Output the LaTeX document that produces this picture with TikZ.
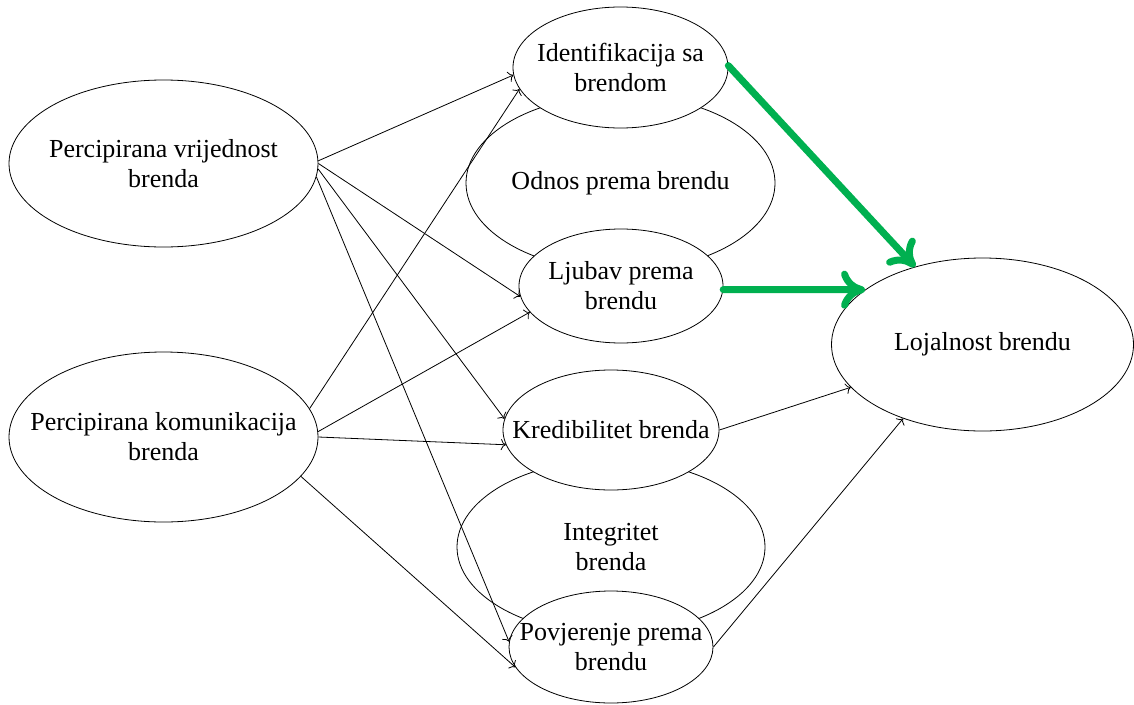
\documentclass[tikz,border=0pt]{standalone}
\usepackage{fontspec}
\setmainfont{Liberation Serif}
\usetikzlibrary{arrows.meta,shapes.geometric}
\definecolor{arrowgreen}{HTML}{00B050}
\begin{document}
\begin{tikzpicture}[x=1pt,y=-1pt,
  construct/.style={ellipse, draw, fill=white, line width=0.8pt, inner sep=0pt,
    label={[caption]center:#1}},
  caption/.style={align=center, inner sep=0pt, font=\fontsize{26}{30}\selectfont},
  size/.style 2 args={minimum width=#1, minimum height=#2},
  link/.style={-{To[length=5pt,width=11pt]}, line width=0.8pt},
  strong/.style={-{To[length=24pt,width=38pt,round]}, draw=arrowgreen,
    line width=7pt, line cap=round}]

\useasboundingbox (0,0) rectangle (1134,704);

% large background constructs
\node[construct={Odnos prema brendu}, size={309pt}{176pt}] (odnos) at (620.5,183) {};
\node[construct={Integritet\\brenda}, size={308pt}{174pt}] (integ) at (611,547) {};

% dimensions drawn on top
\node[construct={Identifikacija sa\\brendom}, size={215pt}{121pt}] (ident) at (620.5,67.5) {};
\node[construct={Ljubav prema\\brendu}, size={204pt}{114pt}] (ljubav) at (621,286) {};
\node[construct={Kredibilitet brenda}, size={216pt}{120pt}] (kred) at (611,430) {};
\node[construct={Povjerenje prema\\brendu}, size={204pt}{112pt}] (povj) at (611,647) {};

% antecedents and outcome
\node[construct={Percipirana vrijednost\\brenda}, size={309pt}{167pt}] (pv) at (163.5,163.5) {};
\node[construct={Percipirana komunikacija\\brenda}, size={309pt}{170pt}] (pk) at (163.5,437) {};
\node[construct={Lojalnost brendu}, size={302pt}{173pt}] (loj) at (982.5,344.5) {};

% paths from perceived value
\draw[link] (pv.1) -- (ident.184);
\draw[link] (pv.0) -- (ljubav.186.3);
\draw[link] (pv.-2.4) -- (kred.174.2);
\draw[link] (pv.-5.5) -- (povj.177.8);

% paths from perceived communication
\draw[link] (pk.11.2) -- (ident.192.3);
\draw[link] (pk.2.6) -- (ljubav.196.2);
\draw[link] (pk.0) -- (kred.188.1);
\draw[link] (pk.-16.7) -- (povj.192.6);

% paths to loyalty
\draw[link] (kred.0) -- (loj.198.4);
\draw[link] (povj.0) -- (loj.223.1);
\draw[strong] (ident.1.3) -- (loj.131.9);
\draw[strong] (ljubav.-2.3) -- (loj.155);

\end{tikzpicture}
\end{document}
